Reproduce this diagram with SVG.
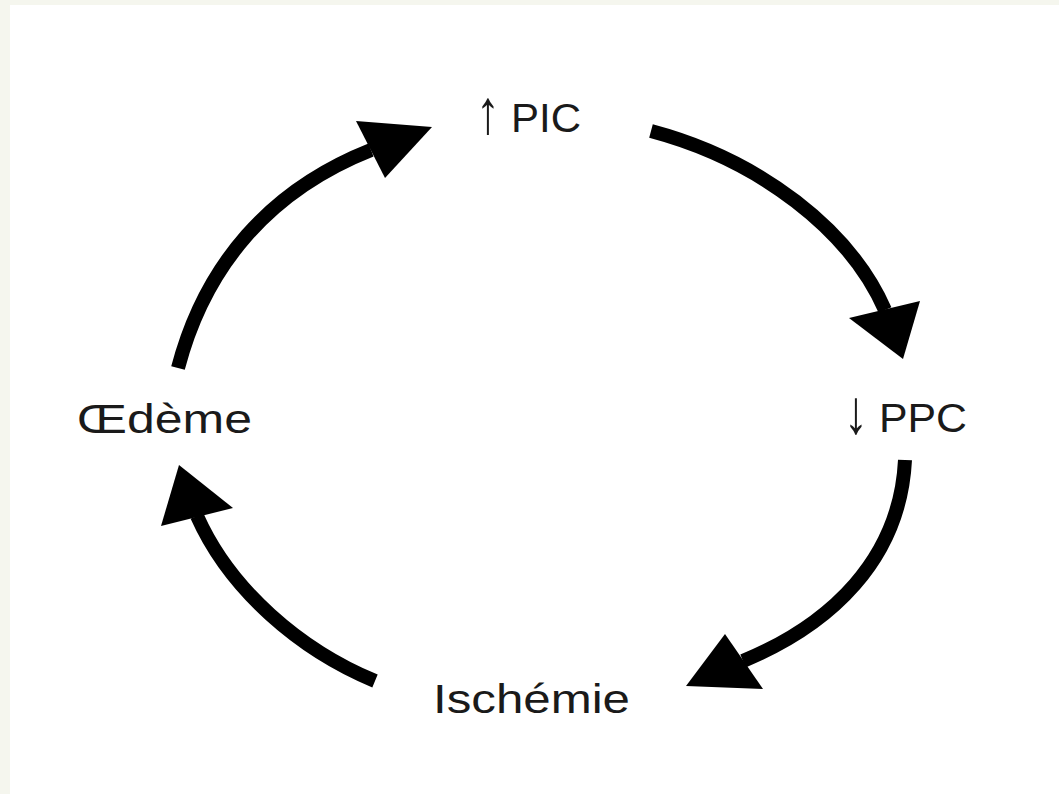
<svg xmlns="http://www.w3.org/2000/svg" width="1059" height="794" viewBox="0 0 1059 794">
<style>
.lbl{font-family:"Liberation Sans",Arial,sans-serif;font-size:40px;fill:#1a1a1a}
.ar{font-family:"Liberation Sans",Arial,sans-serif;font-size:62px;font-weight:bold;fill:#1a1a1a}
.arc{fill:none;stroke:#000;stroke-width:14}
.head{fill:#000}
</style>
<rect x="0" y="0" width="1059" height="794" fill="#f5f6ee"/>
<rect x="10" y="5" width="1049" height="789" fill="#fff"/>
<g id="connectors">
<path class="arc" d="M178,368 C205,265 270,190 371,150"/>
<polygon class="head" points="356,121 432,127 385,178"/>
<path class="arc" d="M651,131 C760,160 850,230 885,310"/>
<polygon class="head" points="849,318 920,301 903,359"/>
<path class="arc" d="M905,460 C900,560 830,625 743,661"/>
<polygon class="head" points="725,634 763,689 686,686"/>
<path class="arc" d="M375,681 C300,650 230,590 197,516"/>
<polygon class="head" points="179,465 161,526 233,508"/>
</g>
<g id="node-pic"><text class="ar" x="476" y="133" textLength="24" lengthAdjust="spacingAndGlyphs">↑</text><text class="lbl" x="511" y="132" textLength="70" lengthAdjust="spacingAndGlyphs">PIC</text></g>
<g id="node-ppc"><text class="ar" x="844" y="433" textLength="24" lengthAdjust="spacingAndGlyphs">↓</text><text class="lbl" x="879" y="432" textLength="88" lengthAdjust="spacingAndGlyphs">PPC</text></g>
<g id="node-oedeme"><text class="lbl" x="77" y="433" textLength="175" lengthAdjust="spacingAndGlyphs">Œdème</text></g>
<g id="node-ischemie"><text class="lbl" x="433" y="713" textLength="197" lengthAdjust="spacingAndGlyphs">Ischémie</text></g>
</svg>
